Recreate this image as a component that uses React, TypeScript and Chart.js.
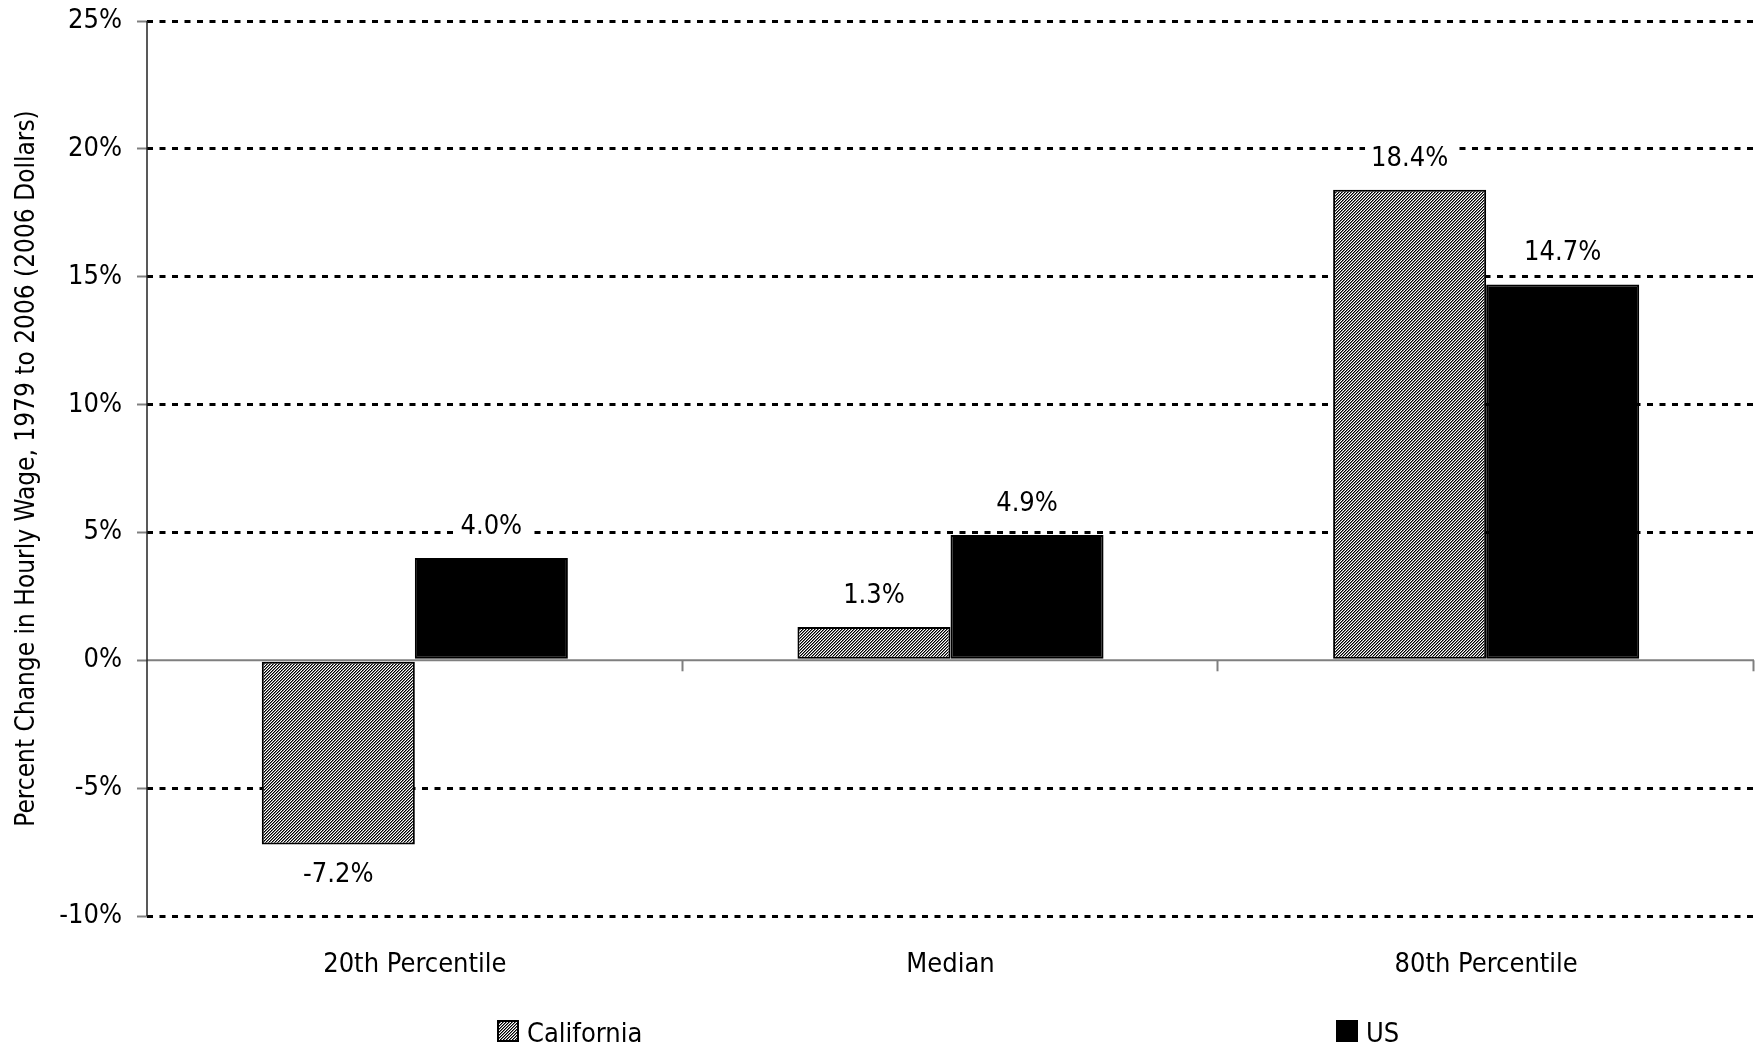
import React, { useEffect, useRef } from "react";
import { Chart, registerables } from "chart.js";

Chart.register(...registerables);

const categories = ["20th Percentile", "Median", "80th Percentile"];
const seriesNames = ["California", "US"];
const californiaValues = [-7.2, 1.3, 18.4];
const usValues = [4.0, 4.9, 14.7];
const yMin = -10;
const yMax = 25;
const yStep = 5;
const yAxisTitle = "Percent Change in Hourly Wage, 1979 to 2006 (2006 Dollars)";

const FONT = '"Liberation Sans Narrow", "DejaVu Sans Condensed", "Arial Narrow", sans-serif';
const FS = 27;

function makeHatch(): CanvasPattern | string {
  const n = 3;
  const c = document.createElement("canvas");
  c.width = n;
  c.height = n;
  const g = c.getContext("2d");
  if (!g) return "#888";
  const img = g.createImageData(n, n);
  for (let y = 0; y < n; y++) {
    for (let x = 0; x < n; x++) {
      const k = (x + y) % n;
      const v = k === 0 ? 0 : k === 1 ? 120 : 255;
      const idx = (y * n + x) * 4;
      img.data[idx] = v;
      img.data[idx + 1] = v;
      img.data[idx + 2] = v;
      img.data[idx + 3] = 255;
    }
  }
  g.putImageData(img, 0, 0);
  const p = g.createPattern(c, "repeat");
  return p || "#888";
}

const decorPlugin = {
  id: "decor",
  beforeDatasetsDraw(chart: any) {
    const { ctx, chartArea, scales } = chart;
    const x = scales.x;
    const y = scales.y;
    const y0 = y.getPixelForValue(0);
    ctx.save();
    ctx.strokeStyle = "#7f7f7f";
    ctx.lineWidth = 2;
    ctx.beginPath();
    ctx.moveTo(chartArea.left, y0);
    ctx.lineTo(chartArea.right, y0);
    ctx.stroke();
    for (let i = 0; i < categories.length; i++) {
      const bx = Math.round(x.getPixelForValue(i + 0.5)) - 0.5;
      ctx.beginPath();
      ctx.moveTo(bx, y0);
      ctx.lineTo(bx, y0 + 11);
      ctx.stroke();
    }
    ctx.strokeStyle = "#222";
    ctx.lineWidth = 1.5;
    ctx.beginPath();
    ctx.moveTo(chartArea.left, chartArea.top);
    ctx.lineTo(chartArea.left, chartArea.bottom);
    ctx.stroke();
    ctx.restore();
  },
  afterDatasetsDraw(chart: any) {
    const { ctx } = chart;
    ctx.save();
    ctx.font = `${FS}px ${FONT}`;
    ctx.textAlign = "center";
    ctx.textBaseline = "middle";
    chart.data.datasets.forEach((ds: any, di: number) => {
      const meta = chart.getDatasetMeta(di);
      meta.data.forEach((bar: any, i: number) => {
        const v = ds.data[i];
        const text = v.toFixed(1) + "%";
        const cy = v >= 0 ? bar.y - 31 : bar.y + 31;
        const tw = ctx.measureText(text).width;
        ctx.fillStyle = "#fff";
        ctx.fillRect(bar.x - tw / 2 - 6, cy - 15, tw + 12, 30);
        ctx.fillStyle = "#000";
        ctx.fillText(text, bar.x, cy);
      });
    });
    ctx.restore();
  },
  afterDraw(chart: any) {
    const { ctx, chartArea } = chart;
    const offsets = [350, 1189];
    const boxSize = 22;
    const boxTop = 1020;
    ctx.save();
    ctx.font = `${FS}px ${FONT}`;
    ctx.textAlign = "left";
    ctx.textBaseline = "alphabetic";
    chart.data.datasets.forEach((ds: any, di: number) => {
      const bx = chartArea.left + offsets[di];
      ctx.fillStyle = ds.backgroundColor;
      ctx.fillRect(bx, boxTop, boxSize, boxSize);
      ctx.strokeStyle = "#000";
      ctx.lineWidth = 2;
      ctx.strokeRect(bx + 1, boxTop + 1, boxSize - 2, boxSize - 2);
      ctx.fillStyle = "#000";
      ctx.fillText(ds.label, bx + boxSize + 8, boxTop + boxSize);
    });
    ctx.restore();
  },
};

export default function App() {
  const ref = useRef<HTMLCanvasElement | null>(null);
  useEffect(() => {
    document.body.style.margin = "0";
    const canvas = ref.current;
    if (!canvas) return;
    const hatch = makeHatch();
    const chart = new Chart(canvas, {
      type: "bar",
      data: {
        labels: categories,
        datasets: [
          {
            label: seriesNames[0],
            data: californiaValues,
            backgroundColor: hatch as any,
            borderColor: "#000",
            borderWidth: 2,
            borderSkipped: false,
          },
          {
            label: seriesNames[1],
            data: usValues,
            backgroundColor: "#000",
            borderColor: "#000",
            borderWidth: 2,
            borderSkipped: false,
          },
        ],
      },
      options: {
        responsive: false,
        animation: false,
        devicePixelRatio: 1,
        layout: { padding: { left: 0, top: 21, right: 5, bottom: 41 } },
        datasets: {
          bar: { categoryPercentage: 2 / 3.5, barPercentage: 1 },
        },
        plugins: {
          legend: { display: false },
          tooltip: { enabled: false },
        },
        scales: {
          x: {
            grid: { display: false, drawTicks: false },
            border: { display: false },
            ticks: {
              color: "#000",
              font: { family: FONT, size: FS },
              padding: 33,
              maxRotation: 0,
            },
            afterFit: (scale: any) => {
              scale.height = 90;
            },
          },
          y: {
            min: yMin,
            max: yMax,
            ticks: {
              stepSize: yStep,
              color: "#000",
              font: { family: FONT, size: FS, lineHeight: 0.3 },
              padding: 15,
              callback: (v: any) => v + "%",
            },
            grid: {
              color: (c: any) => (c.tick && c.tick.value === 0 ? "rgba(0,0,0,0)" : "#000"),
              lineWidth: 3,
              tickColor: "#808080",
              tickWidth: 2,
              tickLength: 10,
            },
            border: { display: false, dash: [6, 6.5] },
            title: {
              display: true,
              text: yAxisTitle,
              color: "#000",
              font: { family: FONT, size: 26 },
              padding: { top: 12, bottom: 0 },
            },
            afterFit: (scale: any) => {
              scale.width = 147;
            },
          },
        },
      },
      plugins: [decorPlugin],
    });
    return () => chart.destroy();
  }, []);
  return (
    <div style={{ width: 1759, height: 1047 }}>
      <canvas ref={ref} width={1759} height={1047} style={{ display: "block" }} />
    </div>
  );
}
